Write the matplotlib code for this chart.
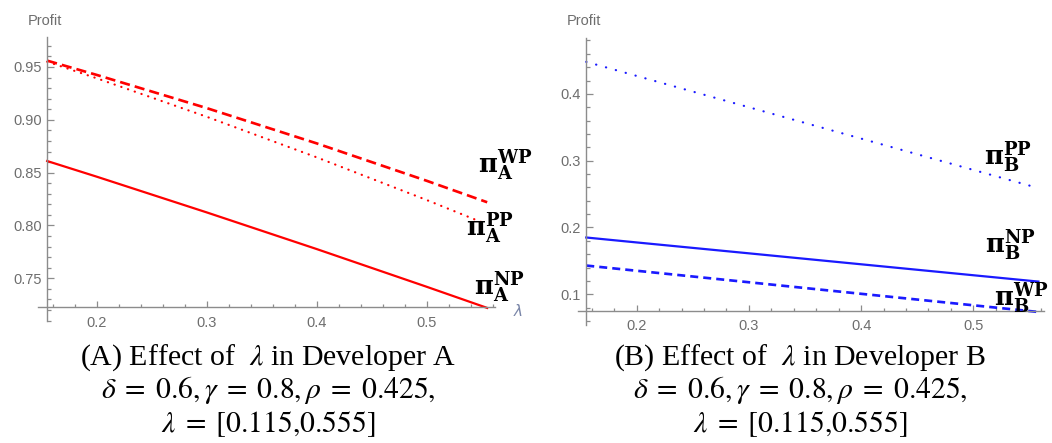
import matplotlib
matplotlib.use("Agg")
import matplotlib.pyplot as plt
from matplotlib.ticker import MultipleLocator, FixedLocator, FuncFormatter

# ---------------- data ----------------
lam_A = [0.155, 0.2, 0.3, 0.4, 0.5, 0.555]
A_WP = [0.956, 0.9425, 0.9111, 0.8777, 0.8423, 0.822]
A_PP = [0.955, 0.9393, 0.9029, 0.8645, 0.8241, 0.801]
A_NP = [0.861, 0.8462, 0.8124, 0.7777, 0.7420, 0.722]

lam_B = [0.155, 0.2, 0.3, 0.4, 0.5, 0.558]
B_PP = [0.448, 0.4269, 0.3800, 0.3331, 0.2862, 0.2590]
B_NP = [0.185, 0.1776, 0.1613, 0.1449, 0.1285, 0.1190]
B_WP = [0.143, 0.1352, 0.1180, 0.1007, 0.0835, 0.0735]

xticks = [0.2, 0.3, 0.4, 0.5]
yticks_A = [0.75, 0.80, 0.85, 0.90, 0.95]
yticks_B = [0.1, 0.2, 0.3, 0.4]

captions_A = [r"(A) Effect of  $\lambda$ in Developer A",
              r"$\delta\;=\;0.6,\gamma\;=\;0.8,\rho\;=\;0.425,$",
              r"$\lambda\;=\;[0.115{,}0.555]$"]
captions_B = [r"(B) Effect of  $\lambda$ in Developer B",
              r"$\delta\;=\;0.6,\gamma\;=\;0.8,\rho\;=\;0.425,$",
              r"$\lambda\;=\;[0.115{,}0.555]$"]

W, H = 1052, 443
fig = plt.figure(figsize=(W / 100, H / 100), dpi=100)

AX_COL = "#8c8c8c"
LBL_COL = "#6e6e6e"


def add_axes(px_l, px_r, py_t, py_b):
    return fig.add_axes([px_l / W, 1 - py_b / H, (px_r - px_l) / W, (py_b - py_t) / H])


def style(ax, xlim, ylim, x0, y0, yticks, yminor, yfmt):
    ax.set_xlim(*xlim)
    ax.set_ylim(*ylim)
    for s in ["top", "right"]:
        ax.spines[s].set_visible(False)
    ax.spines["left"].set_position(("data", x0))
    ax.spines["bottom"].set_position(("data", y0))
    for s in ["left", "bottom"]:
        ax.spines[s].set_color(AX_COL)
        ax.spines[s].set_linewidth(1.0)
    ax.xaxis.set_major_locator(FixedLocator(xticks))
    ax.xaxis.set_minor_locator(MultipleLocator(0.02))
    ax.yaxis.set_major_locator(FixedLocator(yticks))
    ax.yaxis.set_minor_locator(MultipleLocator(yminor))
    ax.xaxis.set_major_formatter(FuncFormatter(lambda v, p: f"{v:.1f}"))
    ax.yaxis.set_major_formatter(FuncFormatter(yfmt))
    ax.tick_params(which="both", direction="in", color=AX_COL, width=0.9,
                   labelcolor=LBL_COL, labelsize=10.5)
    ax.tick_params(axis="y", which="major", length=5, pad=4)
    ax.tick_params(axis="y", which="minor", length=3)
    ax.tick_params(axis="x", which="major", length=4.5, pad=6)
    ax.tick_params(axis="x", which="minor", length=2.5)
    for t in ax.get_xticklabels() + ax.get_yticklabels():
        t.set_fontfamily("Liberation Sans")
    ax.patch.set_alpha(0)


def pi_label(ax, x, y, sub, sup):
    ax.text(x, y, r"$\mathbf{\pi}_{\mathbf{%s}}^{\mathbf{%s}}$" % (sub, sup),
            fontsize=18.5, math_fontfamily="dejavuserif", va="baseline", ha="left",
            color="black", clip_on=False, zorder=10)


LW = 1.6
RED = "#ff0000"
BLUE = "#1a1aff"

# ---------------- panel A ----------------
axA = add_axes(38.4, 494.9, 37.4, 320.6)
style(axA, (0.147, 0.562), (0.71, 0.978), 0.155, 0.7225, yticks_A, 0.01,
      lambda v, p: f"{v:.2f}")
axA.plot(lam_A, A_WP, color=RED, lw=LW * 1.2, ls=(0, (3.8, 1.9)))
axA.plot(lam_A, A_PP, color=RED, lw=LW, ls=(0, (0.1, 3.1)), dash_capstyle="round")
axA.plot(lam_A, A_NP, color=RED, lw=LW)

pi_label(axA, 0.5466, 0.8497, "A", "WP")
pi_label(axA, 0.5356, 0.7894, "A", "PP")
pi_label(axA, 0.5429, 0.7344, "A", "NP")
axA.text(0.5835, 0.7195, r"$\lambda$", fontsize=11, color="#7a86a8",
         math_fontfamily="dejavusans", va="center", ha="center", clip_on=False)

fig.text(28 / W, 1 - 25 / H, "Profit", fontsize=10.5, color=LBL_COL,
         fontfamily="Liberation Sans", va="baseline", ha="left")

# ---------------- panel B ----------------
axB = add_axes(578.4, 1044.0, 37.8, 325.0)
style(axB, (0.148, 0.563), (0.054, 0.484), 0.155, 0.075, yticks_B, 0.02,
      lambda v, p: f"{v:.1f}")
axB.plot(lam_B, B_PP, color=BLUE, lw=LW, ls=(0, (0.1, 4.5)), dash_capstyle="round")
axB.plot(lam_B, B_NP, color=BLUE, lw=LW)
axB.plot(lam_B, B_WP, color=BLUE, lw=LW * 1.2, ls=(0, (3.0, 1.9)))

pi_label(axB, 0.5094, 0.2936, "B", "PP")
pi_label(axB, 0.5103, 0.1615, "B", "NP")
pi_label(axB, 0.5183, 0.0817, "B", "WP")

fig.text(567 / W, 1 - 25 / H, "Profit", fontsize=10.5, color=LBL_COL,
         fontfamily="Liberation Sans", va="baseline", ha="left")

# ---------------- captions ----------------
cap_kw = dict(ha="center", va="baseline", color="black", math_fontfamily="stix",
              fontfamily="Liberation Serif")
for cx, caps in [(268, captions_A), (800, captions_B)]:
    fig.text(cx / W, 1 - 365 / H, caps[0], fontsize=21.5, **cap_kw)
    fig.text(cx / W, 1 - 398 / H, caps[1], fontsize=21.3, **cap_kw)
    fig.text(cx / W, 1 - 432 / H, caps[2], fontsize=21.3, **cap_kw)

fig.savefig("out.png", dpi=100)
